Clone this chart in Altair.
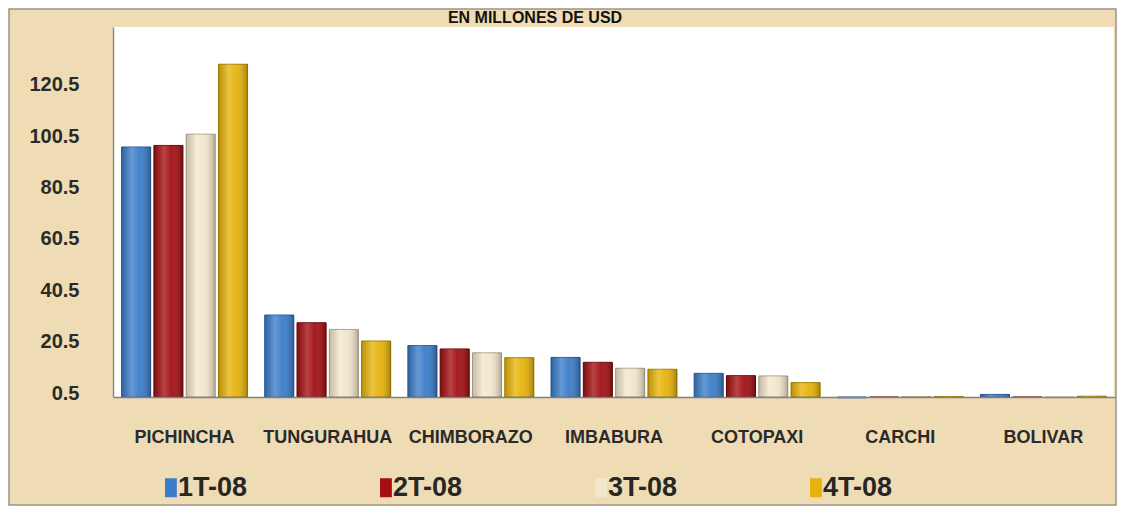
import altair as alt
import pandas as pd

title_text = "EN MILLONES DE USD"
provinces = ["PICHINCHA", "TUNGURAHUA", "CHIMBORAZO", "IMBABURA", "COTOPAXI", "CARCHI", "BOLIVAR"]
series = ["1T-08", "2T-08", "3T-08", "4T-08"]
t1 = [97.8, 32.4, 20.5, 15.9, 9.7, 0.2, 1.5]
t2 = [98.4, 29.4, 19.2, 14.0, 8.8, 0.4, 0.4]
t3 = [102.8, 26.8, 17.7, 11.7, 8.7, 0.7, 0.3]
t4 = [130.0, 22.3, 15.8, 11.3, 6.1, 0.7, 0.8]
y_ticks = [0.5, 20.5, 40.5, 60.5, 80.5, 100.5, 120.5]

colors = ["#3b7cc9", "#a30f12", "#f3e6cc", "#e6b30a"]
strokes = ["#25589a", "#6a0709", "#b3a487", "#a67f00"]

rows = []
for s, vals in zip(series, [t1, t2, t3, t4]):
    for p, v in zip(provinces, vals):
        rows.append({"provincia": p, "serie": s, "valor": v})
df = pd.DataFrame(rows)

W, H = 1002, 370
PL, PT, PR, PB = 105, 19, 2, 109
FONT = "Liberation Sans"

one = pd.DataFrame({"k": [0]})

bg = alt.Chart(one).mark_rect(fill="#efdcb4", stroke="#9b9384", strokeWidth=1.5).encode(
    x=alt.value(-104), x2=alt.value(W + PR - 1), y=alt.value(-18), y2=alt.value(H + PB - 1)
)
plot_bg = alt.Chart(one).mark_rect(fill="white").encode(
    x=alt.value(0), x2=alt.value(W - 1), y=alt.value(0), y2=alt.value(H)
)
title_layer = alt.Chart(pd.DataFrame({"t": [title_text]})).mark_text(
    font=FONT, fontSize=16, fontWeight="bold", color="#111111",
    align="center", baseline="alphabetic"
).encode(text="t:N", x=alt.value(422), y=alt.value(-4))

x_enc = alt.X(
    "provincia:N", sort=provinces,
    scale=alt.Scale(paddingInner=0.12, paddingOuter=0.06),
    axis=alt.Axis(
        title=None, labelAngle=0, ticks=False, domain=True,
        domainColor="#808080", domainWidth=1.5,
        labelFont=FONT, labelFontSize=18, labelFontWeight="bold",
        labelColor="#2a2a2a", labelPadding=31, zindex=1,
    ),
)
xo_enc = alt.XOffset("serie:N", sort=series, scale=alt.Scale(paddingInner=0.1))
y_enc = alt.Y(
    "valor:Q",
    scale=alt.Scale(domain=[0.5, 144.5], nice=False, zero=False),
    axis=alt.Axis(
        values=y_ticks, format=".1f", title=None, grid=False, ticks=False,
        domainColor="#8f8a80", domainWidth=1.5,
        labelFont=FONT, labelFontSize=20, labelFontWeight="bold",
        labelColor="#2a2a2a", labelPadding=34, labelOffset=-4, zindex=1,
    ),
)

bars = alt.Chart(df).mark_bar(strokeWidth=1).encode(
    x=x_enc,
    xOffset=xo_enc,
    y=y_enc,
    y2=alt.datum(0.5),
    color=alt.Color(
        "serie:N", sort=series,
        scale=alt.Scale(domain=series, range=colors),
        legend=alt.Legend(
            title=None, orient="none", legendX=38, legendY=447,
            direction="horizontal", symbolType="M0.05,-1H1.3V1H0.05Z",
            symbolSize=361, symbolStrokeWidth=0,
            labelFont=FONT, labelFontSize=27, labelFontWeight="bold",
            labelColor="#262626",
            labelOffset=0, columnPadding=118, padding=0, zindex=1,
        ),
    ),
    stroke=alt.Stroke("serie:N", sort=series, scale=alt.Scale(domain=series, range=strokes), legend=None),
)

shade = {
    "gradient": "linear", "x1": 0, "y1": 0, "x2": 1, "y2": 0,
    "stops": [
        {"offset": 0.0, "color": "rgba(0,0,0,0.18)"},
        {"offset": 0.35, "color": "rgba(255,255,255,0.22)"},
        {"offset": 0.6, "color": "rgba(255,255,255,0.05)"},
        {"offset": 1.0, "color": "rgba(0,0,0,0.28)"},
    ],
}
shading = alt.Chart(df).mark_bar(fill=shade, strokeWidth=0).encode(
    x=alt.X("provincia:N", sort=provinces),
    xOffset=alt.XOffset("serie:N", sort=series),
    y=alt.Y("valor:Q"),
    y2=alt.datum(0.5),
)

chart = alt.layer(bg, plot_bg, title_layer, bars, shading).properties(
    width=W, height=H,
    padding={"left": PL, "top": PT, "right": PR, "bottom": PB},
    autosize=alt.AutoSizeParams(type="none"),
    background="white",
).configure_view(stroke=None)

chart.save("out.html", embed_options={"renderer": "svg", "actions": False})
